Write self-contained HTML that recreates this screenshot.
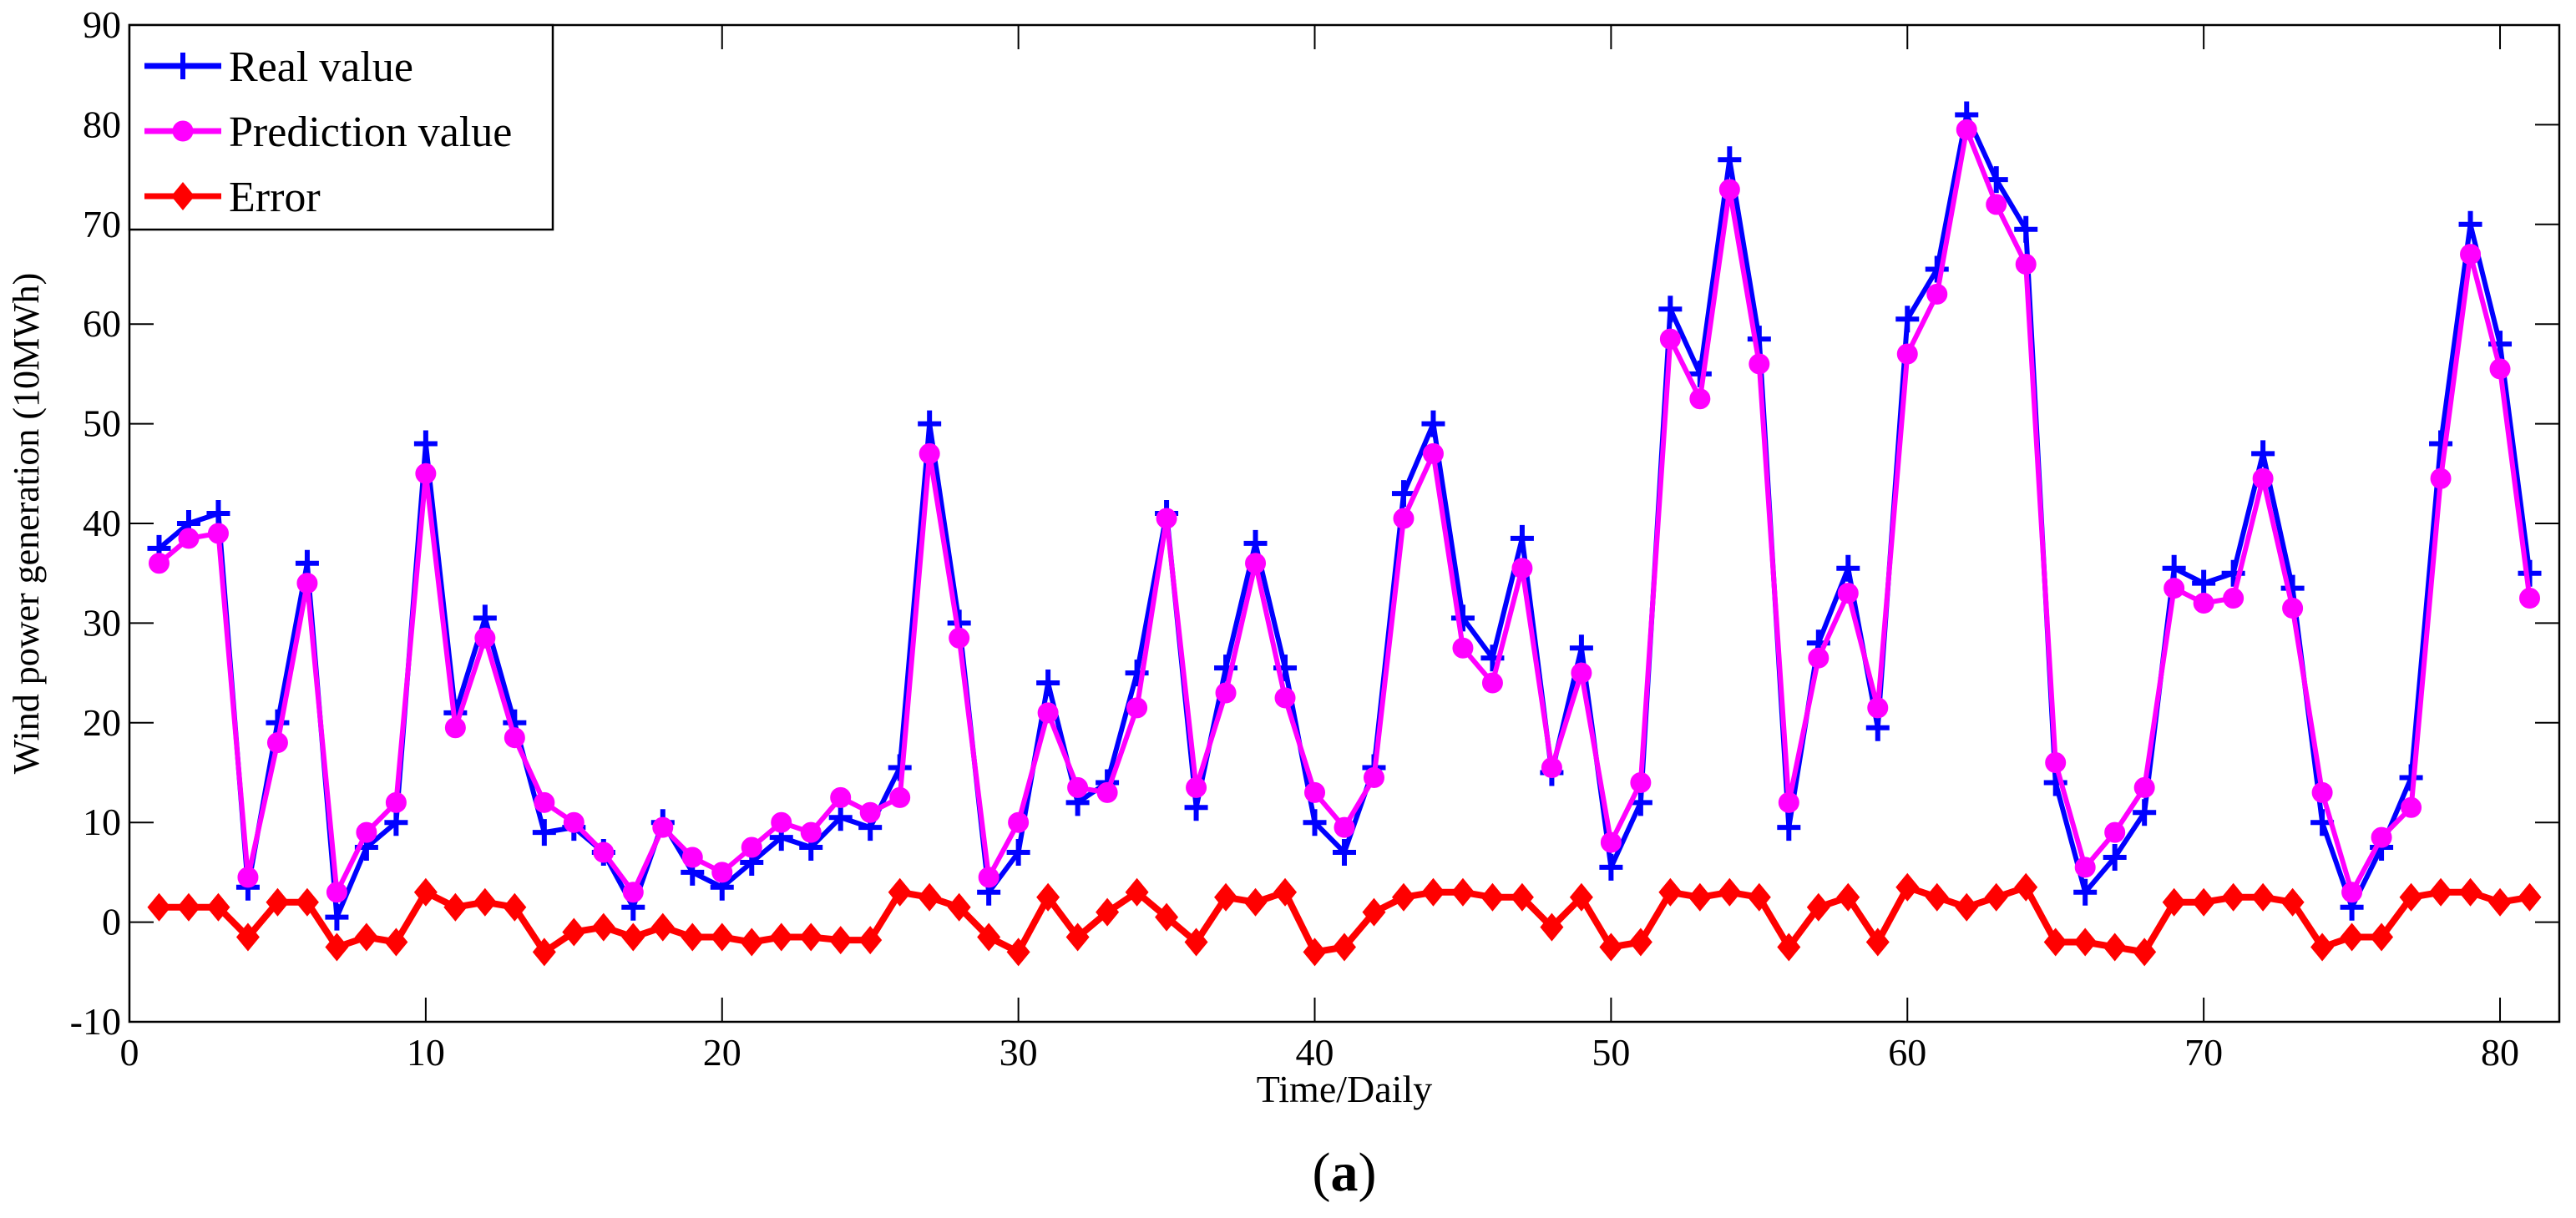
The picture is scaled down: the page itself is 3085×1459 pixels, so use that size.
<!DOCTYPE html>
<html><head><meta charset="utf-8"><style>
html,body{margin:0;padding:0;background:#fff;}
svg{display:block;font-family:"Liberation Serif",serif;}
</style></head><body>
<svg id="chart" width="3085" height="1459" viewBox="0 0 3085 1459" xmlns="http://www.w3.org/2000/svg">
<rect x="0" y="0" width="3085" height="1459" fill="#fff"/>
<g id="grid"></g>
<g id="series"></g>
<g id="legend"></g>
</svg>
<script>
const xTicks=[0,10,20,30,40,50,60,70,80];
const yTicks=[-10,0,10,20,30,40,50,60,70,80,90];
const realValues=[37.5,40,41,3.5,20,36,0.5,7.5,10,48,21,30.5,20,9,9.5,7,1.5,10,5,3.5,6,8.5,7.5,10.5,9.5,15.5,50,30,3,7,24,12,14,25,41,11.5,25.5,38,25.5,10,7,15.5,43,50,30.5,26.5,38.5,15,27.5,5.5,12,61.5,55,76.5,58.5,9.5,28,35.5,19.5,60.5,65.5,81,74.5,69.5,14,3,6.5,11,35.5,34,35,47,33.5,10,1.5,7.5,14.5,48,70,58,35];
const predValues=[36,38.5,39,4.5,18,34,3,9,12,45,19.5,28.5,18.5,12,10,7,3,9.5,6.5,5,7.5,10,9,12.5,11,12.5,47,28.5,4.5,10,21,13.5,13,21.5,40.5,13.5,23,36,22.5,13,9.5,14.5,40.5,47,27.5,24,35.5,15.5,25,8,14,58.5,52.5,73.5,56,12,26.5,33,21.5,57,63,79.5,72,66,16,5.5,9,13.5,33.5,32,32.5,44.5,31.5,13,3,8.5,11.5,44.5,67,55.5,32.5];
const errorValues=[1.5,1.5,1.5,-1.5,2,2,-2.5,-1.5,-2,3,1.5,2,1.5,-3,-1,-0.5,-1.5,-0.5,-1.5,-1.5,-2,-1.5,-1.5,-1.8,-1.8,3,2.5,1.5,-1.5,-3,2.5,-1.5,1,3,0.5,-2,2.5,2,3,-3,-2.5,1,2.5,3,3,2.5,2.5,-0.5,2.5,-2.5,-2,3,2.5,3,2.5,-2.5,1.5,2.5,-2,3.5,2.5,1.5,2.5,3.5,-2,-2,-2.5,-3,2,2,2.5,2.5,2,-2.5,-1.5,-1.5,2.5,3,3,2,2.5];

const NS="http://www.w3.org/2000/svg";
const L=155,R=3065,T=30,B=1224,xMin=0,xMax=82,yMin=-10,yMax=90;
const sx=v=>L+(v-xMin)/(xMax-xMin)*(R-L);
const sy=v=>B-(v-yMin)/(yMax-yMin)*(B-T);
function mk(tag,attrs,parent){const e=document.createElementNS(NS,tag);for(const k in attrs)e.setAttribute(k,attrs[k]);parent.appendChild(e);return e;}
const grid=document.getElementById('grid');
const ser=document.getElementById('series');
const leg=document.getElementById('legend');

const box=mk('rect',{x:L,y:T,width:R-L,height:B-T,fill:'none',stroke:'#000','stroke-width':2.5},grid);



xTicks.forEach(v=>{
  const x=sx(v);
  const t1=mk('line',{x1:x,y1:B,x2:x,y2:B-29,stroke:'#000','stroke-width':2},grid);
  
  
  const t2=mk('line',{x1:x,y1:T,x2:x,y2:T+29,stroke:'#000','stroke-width':2},grid);
  
  
  const lb=mk('text',{x:x,y:B+52,'font-size':46,'text-anchor':'middle',fill:'#000'},grid);
  lb.textContent=v;
  
  
});
yTicks.forEach(v=>{
  const y=sy(v);
  const t1=mk('line',{x1:L,y1:y,x2:L+29,y2:y,stroke:'#000','stroke-width':2},grid);
  
  
  const t2=mk('line',{x1:R,y1:y,x2:R-29,y2:y,stroke:'#000','stroke-width':2},grid);
  
  
  const lb=mk('text',{x:L-10,y:y+15,'font-size':46,'text-anchor':'end',fill:'#000'},grid);
  lb.textContent=v;
  
  
});

const xt=mk('text',{x:(L+R)/2,y:1320,'font-size':46,'text-anchor':'middle',fill:'#000'},grid);
xt.textContent='Time/Daily';


const yt=mk('text',{x:0,y:0,'font-size':44,'text-anchor':'middle',fill:'#000',transform:'translate(46,'+((T+B)/2)+') rotate(-90)'},grid);
yt.textContent='Wind power generation (10MWh)';


const cap=mk('text',{x:(L+R)/2,y:1426,'font-size':66,'text-anchor':'middle',fill:'#000'},grid);
cap.innerHTML='(<tspan font-weight="bold">a</tspan>)';



function linePath(vals){return vals.map((v,i)=>(i?'L':'M')+sx(i+1).toFixed(1)+' '+sy(v).toFixed(1)).join(' ');}
function plus(g,x,y,c){mk('path',{d:`M${x-14} ${y}H${x+14}M${x} ${y-16}V${y+16}`,stroke:c,'stroke-width':6,fill:'none'},g);}
function circ(g,x,y,c){mk('circle',{cx:x,cy:y,r:11,fill:c,stroke:c,'stroke-width':3},g);}
function diam(g,x,y,c){mk('path',{d:`M${x} ${y-17}L${x+14} ${y}L${x} ${y+17}L${x-14} ${y}Z`,fill:c},g);}

const gReal=mk('g',{},ser);


mk('path',{d:linePath(realValues),fill:'none',stroke:'#0000ff','stroke-width':6,'stroke-linejoin':'round'},gReal);
realValues.forEach((v,i)=>plus(gReal,sx(i+1),sy(v),'#0000ff'));

const gPred=mk('g',{},ser);


mk('path',{d:linePath(predValues),fill:'none',stroke:'#ff00ff','stroke-width':6,'stroke-linejoin':'round'},gPred);
predValues.forEach((v,i)=>circ(gPred,sx(i+1),sy(v),'#ff00ff'));

const gErr=mk('g',{},ser);


mk('path',{d:linePath(errorValues),fill:'none',stroke:'#ff0000','stroke-width':8,'stroke-linejoin':'round'},gErr);
errorValues.forEach((v,i)=>diam(gErr,sx(i+1),sy(v),'#ff0000'));

const lb=mk('rect',{x:L,y:T,width:507,height:245,fill:'#fff',stroke:'#000','stroke-width':2.5},leg);


const items=[['Real value','#0000ff',plus,'legend-entry-real'],['Prediction value','#ff00ff',circ,'legend-entry-prediction'],['Error','#ff0000',diam,'legend-entry-error']];
items.forEach((it,i)=>{
  const y=79+i*78;
  const g=mk('g',{},leg);
  
  
  mk('line',{x1:173,y1:y,x2:265,y2:y,stroke:it[1],'stroke-width':7},g);
  it[2](g,219,y,it[1]);
  const t=mk('text',{x:274,y:y+18,'font-size':52,fill:'#000'},g);
  t.textContent=it[0];
});
</script>
</body></html>
